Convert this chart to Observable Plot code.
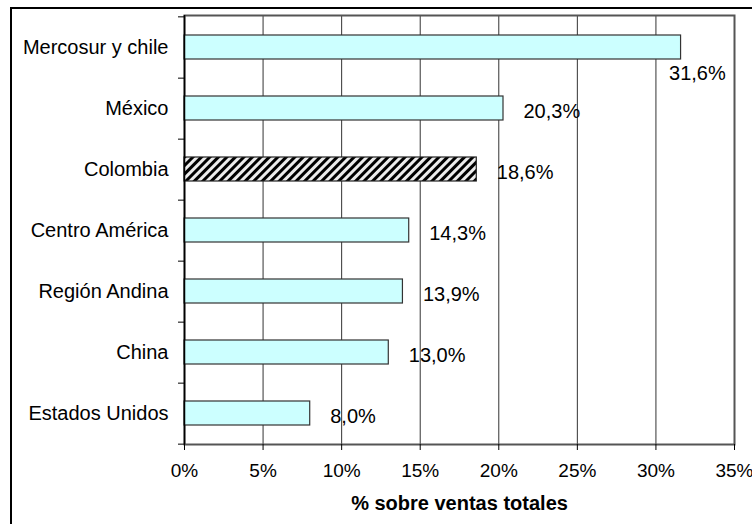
<!DOCTYPE html>
<html>
<head>
<meta charset="utf-8">
<script src="https://cdn.jsdelivr.net/npm/d3@7"></script>
<script src="https://cdn.jsdelivr.net/npm/@observablehq/plot@0.6"></script>
<style>
  html, body { margin: 0; padding: 0; background: #fff; }
  #wrap { position: relative; width: 752px; height: 524px; overflow: hidden; }
  #border { position: absolute; left: 10px; top: 7px; width: 800px; height: 600px;
            border-left: 2px solid #000; border-top: 2px solid #000; pointer-events: none; }
  svg { display: block; }
</style>
</head>
<body>
<div id="wrap"><div id="border"></div></div>
<script>
const categories = ["Mercosur y chile", "México", "Colombia", "Centro América", "Región Andina", "China", "Estados Unidos"];
const values = [31.6, 20.3, 18.6, 14.3, 13.9, 13.0, 8.0];
const xTicks = [0, 5, 10, 15, 20, 25, 30, 35];
const xTitle = "% sobre ventas totales";
const highlighted = "Colombia";

const data = categories.map((cat, i) => ({cat, value: values[i], label: values[i].toFixed(1).replace(".", ",") + "%"}));

const W = 752, H = 524;
const mLeft = 184, mRight = 18, mTop = 15, mBottom = 80;
const step = (H - mTop - mBottom) / categories.length;
const font = "Arial, 'Liberation Sans', sans-serif";
const maxV = d3.max(values);

const svg = Plot.plot({
  width: W,
  height: H,
  marginLeft: mLeft,
  marginRight: mRight,
  marginTop: mTop,
  marginBottom: mBottom,
  style: {fontFamily: font, color: "#000", background: "transparent"},
  x: {domain: [0, 35], label: null},
  y: {domain: categories, paddingInner: 0.61, paddingOuter: 0.305, label: null},
  marks: [
    Plot.ruleX(xTicks, {stroke: "#333", strokeWidth: 1}),
    Plot.frame({stroke: "#555", strokeWidth: 2}),
    Plot.barX(data.filter(d => d.cat !== highlighted), {x: "value", y: "cat", fill: "#ccffff", stroke: "#333", strokeWidth: 1.2}),
    Plot.barX(data.filter(d => d.cat === highlighted), {x: "value", y: "cat", fill: "url(#hatch)", stroke: "#222", strokeWidth: 1.2}),
    Plot.ruleX([0], {stroke: "#000", strokeWidth: 1.5}),
    Plot.ruleY(categories, {y: d => d, dy: step / 2, x1: 0, x2: 0, insetLeft: -6, stroke: "#000"}),
    Plot.ruleY(categories.slice(0, 1), {y: d => d, dy: -step / 2, x1: 0, x2: 0, insetLeft: -6, stroke: "#000"}),
    Plot.axisX({ticks: xTicks, tickFormat: d => d + "%", tickSize: 6, tickPadding: 13, fontSize: 19, label: null, stroke: "#000"}),
    Plot.axisY({tickSize: 0, tickPadding: 16, fontSize: 20, label: null}),
    Plot.text(data.filter(d => d.value !== maxV), {x: "value", y: "cat", text: "label", textAnchor: "start", dx: 20, dy: 3, fontSize: 20, fill: "#000"}),
    Plot.text(data.filter(d => d.value === maxV), {x: "value", y: "cat", text: "label", textAnchor: "start", dx: -12, dy: 26, fontSize: 20, fill: "#000"}),
    Plot.text([xTitle], {frameAnchor: "bottom", dy: 65, fontWeight: "bold", fontSize: 20, fill: "#000"})
  ]
});

const ns = "http://www.w3.org/2000/svg";
const defs = document.createElementNS(ns, "defs");
defs.innerHTML = `<pattern id="hatch" patternUnits="userSpaceOnUse" width="6" height="6" patternTransform="rotate(45)">
  <rect width="6" height="6" fill="#ececec"></rect>
  <rect x="0" width="3" height="6" fill="#000"></rect>
</pattern>`;
svg.insertBefore(defs, svg.firstChild);

document.getElementById("wrap").insertBefore(svg, document.getElementById("border"));
</script>
</body>
</html>
